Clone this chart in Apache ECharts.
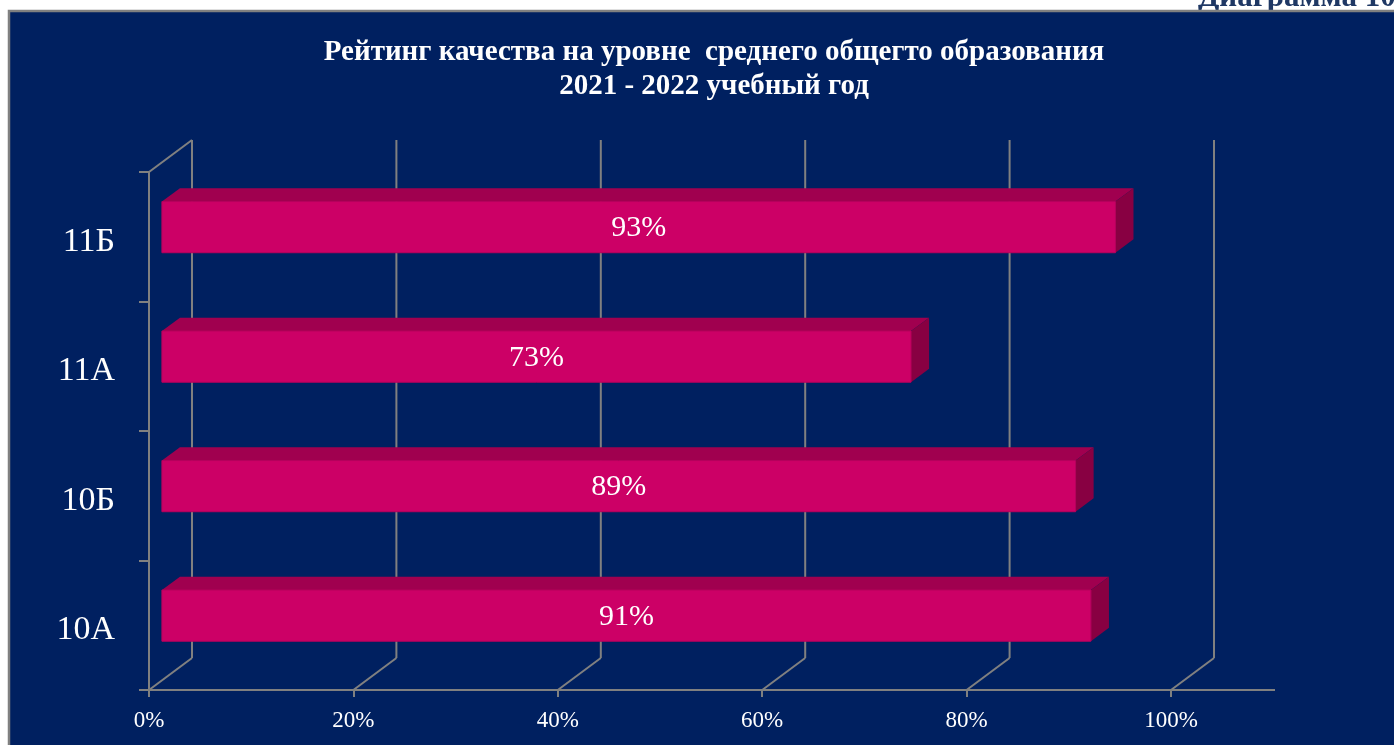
<!DOCTYPE html>
<html>
<head>
<meta charset="utf-8">
<script src="https://cdn.jsdelivr.net/npm/echarts@6/dist/echarts.min.js"></script>
<style>
  html, body { margin: 0; padding: 0; background: #fff; }
  #chart { width: 1394px; height: 745px; }
</style>
</head>
<body>
<div id="chart"></div>
<script>
// данные диаграммы
var categories = ['10А', '10Б', '11А', '11Б'];
var values = [90.9, 89.4, 73.3, 93.3];
var xTicks = [0, 20, 40, 60, 80, 100];

var FONT = "'Liberation Serif', 'Times New Roman', serif";
var GRID_COLOR = '#808080';
var DX = 43, DY = -32;          // глубина "3D" стенки
var FRONT = 0.3, BACK = 0.72;   // положение столбика по глубине

var myChart = echarts.init(document.getElementById('chart'));

// задняя стенка и пол
function renderWall(params, api) {
    var cs = params.coordSys;
    var v = api.value(0);
    var x = api.coord([v, 0])[0];
    var top = cs.y, bottom = cs.y + cs.height;
    var style = { stroke: GRID_COLOR, lineWidth: 2 };
    var children = [
        { type: 'line', shape: { x1: x + DX, y1: top + DY, x2: x + DX, y2: bottom + DY }, style: style },
        { type: 'line', shape: { x1: x, y1: bottom, x2: x + DX, y2: bottom + DY }, style: style }
    ];
    if (v === 0) {
        children.push({ type: 'line', shape: { x1: x, y1: top, x2: x + DX, y2: top + DY }, style: style });
    }
    if (v === 100) {
        children.push({ type: 'line', shape: { x1: x, y1: bottom, x2: x + 104, y2: bottom }, style: style });
    }
    return { type: 'group', children: children };
}

// столбики с объемом
function renderBar(params, api) {
    var p0 = api.coord([0, api.value(1)]);
    var p1 = api.coord([api.value(0), api.value(1)]);
    var band = api.size([0, 1])[1];
    var h = band * 0.395;
    var fx = DX * FRONT, fy = DY * FRONT;
    var ddx = DX * (BACK - FRONT), ddy = DY * (BACK - FRONT);
    var x0 = p0[0] + fx, x1 = p1[0] + fx;
    var y0 = p0[1] + fy - h / 2, y1 = y0 + h;
    return {
        type: 'group',
        children: [
            { type: 'polygon', shape: { points: [[x0, y0], [x1, y0], [x1 + ddx, y0 + ddy], [x0 + ddx, y0 + ddy]] },
              style: { fill: '#A0004F' } },
            { type: 'polygon', shape: { points: [[x1, y0], [x1 + ddx, y0 + ddy], [x1 + ddx, y1 + ddy], [x1, y1]] },
              style: { fill: '#880042' } },
            { type: 'rect', shape: { x: x0, y: y0, width: x1 - x0, height: h },
              style: { fill: '#CC0066', stroke: '#B8005C', lineWidth: 1 } },
            { type: 'text', x: (x0 + x1) / 2, y: (y0 + y1) / 2 + 1,
              style: { text: Math.round(api.value(0)) + '%', fill: '#fff', fontSize: 30,
                       fontFamily: FONT, align: 'center', verticalAlign: 'middle' } }
        ]
    };
}

var option = {
    backgroundColor: '#ffffff',
    animation: false,
    graphic: [
        { type: 'rect', z: -10, shape: { x: 9, y: 11, width: 1400, height: 800 },
          style: { fill: '#002060', stroke: GRID_COLOR, lineWidth: 2.5 } },
        { type: 'text', z: -11, x: 1198, y: 13,
          style: { text: 'Диаграмма 10', fill: '#1F3864', fontSize: 31, fontWeight: 'bold',
                   fontFamily: FONT, verticalAlign: 'bottom' } }
    ],
    title: {
        text: 'Рейтинг качества на уровне  среднего общегто образования\n2021 - 2022 учебный год',
        left: 709,
        top: 31,
        textAlign: 'center',
        textStyle: { color: '#fff', fontSize: 29, fontWeight: 'bold', fontFamily: FONT, lineHeight: 34 }
    },
    grid: { left: 149, right: 223, top: 172, bottom: 55 },
    xAxis: {
        type: 'value',
        min: 0, max: 100, interval: 20,
        splitLine: { show: false },
        axisLine: { show: true, lineStyle: { color: GRID_COLOR, width: 2 } },
        axisTick: { show: true, length: 7, lineStyle: { color: GRID_COLOR, width: 2 } },
        axisLabel: { color: '#fff', fontSize: 23, fontFamily: FONT, margin: 19, formatter: '{value}%' }
    },
    yAxis: {
        type: 'category',
        data: categories,
        axisLine: { show: true, lineStyle: { color: GRID_COLOR, width: 2 } },
        axisTick: { show: true, length: 10, lineStyle: { color: GRID_COLOR, width: 2 } },
        axisLabel: {
            margin: 34,
            formatter: '{a|{value}}',
            rich: { a: { color: '#fff', fontSize: 34, fontFamily: FONT, padding: [10, 0, 0, 0] } }
        }
    },
    series: [{
        name: 'стенки',
        type: 'custom',
        clip: false,
        z: 1,
        renderItem: renderWall,
        encode: { x: 0 },
        data: xTicks.map(function (t) { return [t]; })
    }, {
        name: 'качество',
        type: 'custom',
        clip: false,
        z: 5,
        renderItem: renderBar,
        encode: { x: 0, y: 1 },
        data: values.map(function (v, i) { return [v, categories[i]]; })
    }]
};
myChart.setOption(option);
</script>
</body>
</html>
